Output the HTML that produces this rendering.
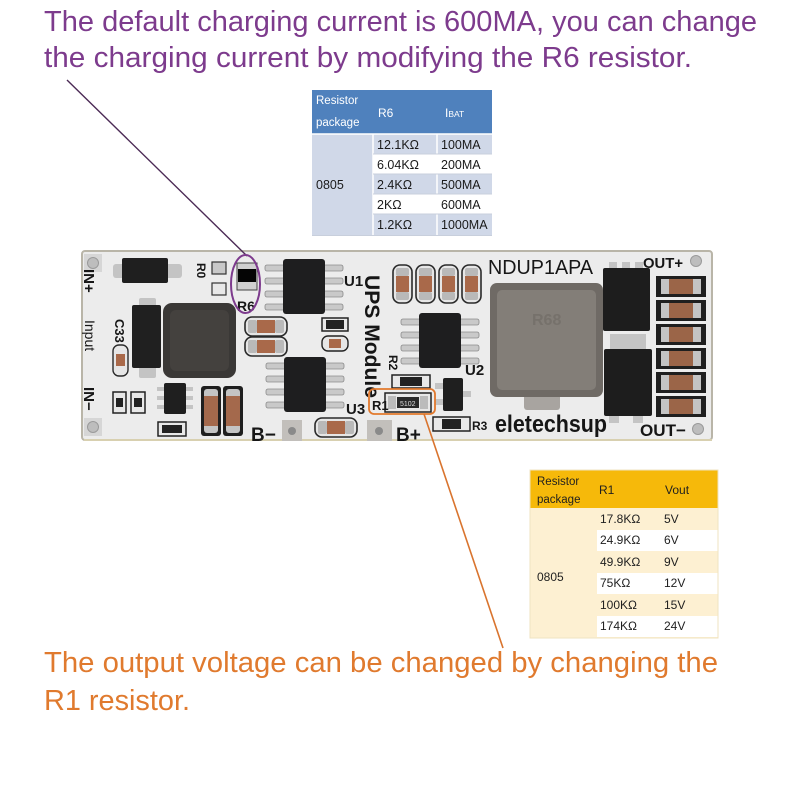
<!DOCTYPE html>
<html><head><meta charset="utf-8"><style>
html,body{margin:0;padding:0;background:#fff;}
svg{display:block;}
text{font-family:"Liberation Sans",sans-serif;}
</style></head><body>
<svg width="800" height="800" viewBox="0 0 800 800" xmlns="http://www.w3.org/2000/svg">
<defs>
  <g id="soic">
    <rect x="-18" y="6" width="20" height="6" rx="2" fill="#c9c9c9" stroke="#8a8a8a" stroke-width="0.8"/>
    <rect x="-18" y="19" width="20" height="6" rx="2" fill="#c9c9c9" stroke="#8a8a8a" stroke-width="0.8"/>
    <rect x="-18" y="32" width="20" height="6" rx="2" fill="#c9c9c9" stroke="#8a8a8a" stroke-width="0.8"/>
    <rect x="-18" y="45" width="20" height="6" rx="2" fill="#c9c9c9" stroke="#8a8a8a" stroke-width="0.8"/>
    <rect x="40" y="6" width="20" height="6" rx="2" fill="#c9c9c9" stroke="#8a8a8a" stroke-width="0.8"/>
    <rect x="40" y="19" width="20" height="6" rx="2" fill="#c9c9c9" stroke="#8a8a8a" stroke-width="0.8"/>
    <rect x="40" y="32" width="20" height="6" rx="2" fill="#c9c9c9" stroke="#8a8a8a" stroke-width="0.8"/>
    <rect x="40" y="45" width="20" height="6" rx="2" fill="#c9c9c9" stroke="#8a8a8a" stroke-width="0.8"/>
    <rect x="0" y="0" width="42" height="55" rx="3" fill="#1e1e1f"/>
  </g>
  <g id="capv">
    <rect x="0" y="0" width="19" height="38" rx="7" fill="#e6e6e6" stroke="#2a2a2a" stroke-width="1.6"/>
    <rect x="3" y="3" width="13" height="8" rx="2" fill="#b9b9b9"/>
    <rect x="3" y="11" width="13" height="16" fill="#a9694a"/>
    <rect x="3" y="27" width="13" height="8" rx="2" fill="#b9b9b9"/>
  </g>
  <g id="caph">
    <rect x="0" y="0" width="42" height="19" rx="7" fill="#e6e6e6" stroke="#2a2a2a" stroke-width="1.6"/>
    <rect x="3" y="3" width="9" height="13" rx="2" fill="#b9b9b9"/>
    <rect x="12" y="3" width="18" height="13" fill="#a9694a"/>
    <rect x="30" y="3" width="9" height="13" rx="2" fill="#b9b9b9"/>
  </g>
  <g id="capr">
    <rect x="0" y="0" width="50" height="21" fill="#1f1f1f"/>
    <rect x="5" y="3" width="8" height="15" fill="#c4c4c4"/>
    <rect x="13" y="3" width="24" height="15" fill="#9b6548"/>
    <rect x="37" y="3" width="8" height="15" fill="#c4c4c4"/>
  </g>
</defs>

<!-- top purple text -->
<text x="44" y="31" font-size="29" fill="#7d3b8d" textLength="713" lengthAdjust="spacingAndGlyphs">The default charging current is 600MA, you can change</text>
<text x="44" y="67" font-size="29" fill="#7d3b8d" textLength="648" lengthAdjust="spacingAndGlyphs">the charging current by modifying the R6 resistor.</text>

<!-- Table 1 -->
<rect x="312" y="90" width="180" height="44" fill="#4f81bd"/>
<text x="316" y="104" font-size="11.5" fill="#fff">Resistor</text>
<text x="316" y="126" font-size="11.5" fill="#fff">package</text>
<text x="378" y="117" font-size="12" fill="#fff">R6</text>
<text x="445" y="117" font-size="12" fill="#fff">I<tspan font-size="8.5">BAT</tspan></text>
<rect x="312" y="134" width="61" height="101" fill="#d0d8e8"/>
<rect x="373" y="134" width="119" height="20" fill="#d0d8e8"/>
<rect x="373" y="154" width="119" height="20" fill="#ffffff"/>
<rect x="373" y="174" width="119" height="20" fill="#d0d8e8"/>
<rect x="373" y="194" width="119" height="20" fill="#ffffff"/>
<rect x="373" y="214" width="119" height="21" fill="#d0d8e8"/>
<g stroke="#ffffff" stroke-width="1.5">
  <line x1="312" y1="134" x2="492" y2="134"/>
  <line x1="373" y1="134" x2="373" y2="235"/>
  <line x1="437" y1="134" x2="437" y2="235"/>
</g>
<g stroke="#c8cfdc" stroke-width="1">
  <line x1="373" y1="154" x2="492" y2="154"/>
  <line x1="373" y1="174" x2="492" y2="174"/>
  <line x1="373" y1="194" x2="492" y2="194"/>
  <line x1="373" y1="214" x2="492" y2="214"/>
  <line x1="312" y1="235.5" x2="492" y2="235.5"/>
</g>
<g font-size="12.5" fill="#1a1a1a">
  <text x="316" y="189">0805</text>
  <text x="377" y="149">12.1KΩ</text><text x="441" y="149">100MA</text>
  <text x="377" y="169">6.04KΩ</text><text x="441" y="169">200MA</text>
  <text x="377" y="189">2.4KΩ</text><text x="441" y="189">500MA</text>
  <text x="377" y="209">2KΩ</text><text x="441" y="209">600MA</text>
  <text x="377" y="229">1.2KΩ</text><text x="441" y="229">1000MA</text>
</g>

<!-- PCB board -->
<rect x="82" y="251" width="630" height="189" rx="3" fill="#ececec" stroke="#b9b5a8" stroke-width="2"/>
<line x1="84" y1="440" x2="712" y2="440" stroke="#d8d0b0" stroke-width="2"/>

<!-- mounting holes -->
<g fill="#bdbdbd" stroke="#9a9a9a" stroke-width="1">
  <rect x="84" y="254" width="18" height="18" fill="#d6d6d6" stroke="none"/>
  <circle cx="93" cy="263" r="5.5"/>
  <rect x="84" y="418" width="18" height="18" fill="#d6d6d6" stroke="none"/>
  <circle cx="93" cy="427" r="5.5"/>
  <circle cx="696" cy="261" r="5.5"/>
  <circle cx="698" cy="429" r="5.5"/>
</g>

<!-- top-left diode -->
<rect x="113" y="264" width="13" height="14" rx="3" fill="#c4c4c4"/>
<rect x="165" y="264" width="17" height="14" rx="3" fill="#c4c4c4"/>
<rect x="122" y="258" width="46" height="25" rx="2" fill="#1f1f1f"/>

<!-- R0 pads -->
<rect x="212" y="262" width="14" height="12" fill="#c8c8c8" stroke="#333" stroke-width="1.2"/>
<rect x="212" y="283" width="14" height="12" fill="#e8e8e8" stroke="#333" stroke-width="1.2"/>
<!-- R6 -->
<rect x="237" y="263" width="20" height="27" fill="#d0d0d0" stroke="#444" stroke-width="1"/>
<rect x="238" y="269" width="18" height="13" fill="#050505"/>

<!-- left inductor -->
<rect x="163" y="303" width="73" height="75" rx="9" fill="#3a3836"/>
<rect x="170" y="310" width="59" height="61" rx="6" fill="#44413e"/>

<!-- C33 -->
<rect x="139" y="298" width="17" height="10" rx="2" fill="#c4c4c4"/>
<rect x="139" y="366" width="17" height="12" rx="2" fill="#c4c4c4"/>
<rect x="132" y="305" width="29" height="63" rx="2" fill="#202020"/>
<!-- small cap below C33 -->
<rect x="113" y="345" width="15" height="31" rx="6" fill="#e6e6e6" stroke="#2a2a2a" stroke-width="1.4"/>
<rect x="116" y="354" width="9" height="12" fill="#a9694a"/>

<!-- U1, U3, U2 -->
<use href="#soic" x="283" y="259"/>
<use href="#soic" x="284" y="357"/>
<use href="#soic" x="419" y="313"/>

<!-- caps near U1 -->
<use href="#caph" x="245" y="317"/>
<use href="#caph" x="245" y="337"/>

<!-- small 102 resistor & cap -->
<rect x="322" y="318" width="26" height="13" fill="#e8e8e8" stroke="#222" stroke-width="1.5"/>
<rect x="326" y="320" width="18" height="9" fill="#222"/>
<rect x="322" y="336" width="26" height="15" rx="6" fill="#e6e6e6" stroke="#222" stroke-width="1.4"/>
<rect x="329" y="339" width="12" height="9" fill="#a9694a"/>

<!-- bottom-left small parts -->
<rect x="113" y="392" width="13" height="21" fill="#e8e8e8" stroke="#222" stroke-width="1.5"/>
<rect x="116" y="398" width="7" height="9" fill="#222"/>
<rect x="131" y="392" width="14" height="21" fill="#e8e8e8" stroke="#222" stroke-width="1.5"/>
<rect x="134" y="398" width="8" height="9" fill="#222"/>
<g fill="#c4c4c4">
  <rect x="157" y="387" width="9" height="4"/><rect x="157" y="396" width="9" height="4"/><rect x="157" y="405" width="9" height="4"/>
  <rect x="184" y="387" width="9" height="4"/><rect x="184" y="396" width="9" height="4"/><rect x="184" y="405" width="9" height="4"/>
</g>
<rect x="164" y="383" width="22" height="31" rx="2" fill="#1f1f1f"/>
<rect x="158" y="422" width="28" height="14" fill="#e8e8e8" stroke="#222" stroke-width="1.5"/>
<rect x="162" y="425" width="20" height="8" fill="#222"/>

<!-- two big caps -->
<g>
  <rect x="201" y="386" width="20" height="50" rx="3" fill="#1f1f1f"/>
  <rect x="204" y="389" width="14" height="44" rx="3" fill="#c4c4c4"/>
  <rect x="204" y="396" width="14" height="30" fill="#a4694c"/>
  <rect x="223" y="386" width="20" height="50" rx="3" fill="#1f1f1f"/>
  <rect x="226" y="389" width="14" height="44" rx="3" fill="#c4c4c4"/>
  <rect x="226" y="396" width="14" height="30" fill="#a4694c"/>
</g>

<!-- B- pad and cap -->
<rect x="282" y="420" width="20" height="21" fill="#c2bfbb"/>
<circle cx="292" cy="431" r="4" fill="#8a8a8a"/>
<use href="#caph" x="315" y="418"/>
<!-- B+ pad -->
<rect x="367" y="420" width="25" height="21" fill="#c2bfbb"/>
<circle cx="379" cy="431" r="4" fill="#8a8a8a"/>

<!-- four top caps -->
<use href="#capv" x="393" y="265"/>
<use href="#capv" x="416" y="265"/>
<use href="#capv" x="439" y="265"/>
<use href="#capv" x="462" y="265"/>

<!-- R2 1002, R1 5102, R3 002 -->
<rect x="392" y="375" width="38" height="13" fill="#e8e8e8" stroke="#222" stroke-width="1.5"/>
<rect x="400" y="377" width="22" height="9" fill="#222"/>
<rect x="385" y="393" width="46" height="19" fill="#e8e8e8" stroke="#222" stroke-width="1.5"/>
<rect x="388" y="396" width="8" height="13" fill="#bbb"/>
<rect x="420" y="396" width="8" height="13" fill="#bbb"/>
<rect x="397" y="397" width="22" height="11" fill="#2a2a2a"/>
<text x="400" y="406" font-size="7" fill="#ddd">5102</text>
<rect x="433" y="417" width="37" height="14" fill="#e8e8e8" stroke="#222" stroke-width="1.5"/>
<rect x="442" y="419" width="19" height="10" fill="#222"/>

<!-- SOT-23 near U2 -->
<rect x="435" y="383" width="10" height="6" fill="#c4c4c4"/>
<rect x="435" y="399" width="10" height="6" fill="#c4c4c4"/>
<rect x="461" y="391" width="10" height="6" fill="#c4c4c4"/>
<rect x="443" y="378" width="20" height="33" rx="2" fill="#1f1f1f"/>

<!-- big inductor -->
<rect x="524" y="392" width="36" height="18" rx="3" fill="#a8a4a0"/>
<rect x="490" y="283" width="113" height="114" rx="7" fill="#6f6a65"/>
<rect x="497" y="290" width="99" height="100" rx="5" fill="#837e78"/>
<text x="532" y="325" font-size="16" font-weight="bold" fill="#76716b">R68</text>

<!-- MOSFETs -->
<rect x="609" y="262" width="8" height="8" fill="#c4c4c4"/><rect x="622" y="262" width="8" height="8" fill="#c4c4c4"/><rect x="635" y="262" width="8" height="8" fill="#c4c4c4"/>
<rect x="603" y="268" width="47" height="63" rx="2" fill="#1d1d1d"/>
<rect x="610" y="334" width="36" height="16" fill="#c4c4c4"/>
<rect x="604" y="349" width="48" height="67" rx="2" fill="#1d1d1d"/>
<rect x="609" y="416" width="10" height="7" fill="#c4c4c4"/><rect x="633" y="416" width="10" height="7" fill="#c4c4c4"/>

<!-- right caps column -->
<use href="#capr" x="656" y="276"/>
<use href="#capr" x="656" y="300"/>
<use href="#capr" x="656" y="324"/>
<use href="#capr" x="656" y="348"/>
<use href="#capr" x="656" y="372"/>
<use href="#capr" x="656" y="396"/>

<!-- board texts -->
<g fill="#161616" font-weight="bold">
  <text transform="translate(84,269) rotate(90)" font-size="15">IN+</text>
  <text transform="translate(85,320) rotate(90)" font-size="14" font-weight="normal">Input</text>
  <text transform="translate(84,387) rotate(90)" font-size="15">IN−</text>
  <text transform="translate(115,319) rotate(90)" font-size="13">C33</text>
  <text transform="translate(197,263) rotate(90)" font-size="12">R0</text>
  <text x="237" y="311" font-size="14">R6</text>
  <text x="344" y="286" font-size="15">U1</text>
  <text transform="translate(365,275) rotate(90)" font-size="21" textLength="123" lengthAdjust="spacingAndGlyphs">UPS Module</text>
  <text transform="translate(389,355) rotate(90)" font-size="12">R2</text>
  <text x="465" y="375" font-size="15">U2</text>
  <text x="346" y="414" font-size="15">U3</text>
  <text x="372" y="410" font-size="13">R1</text>
  <text x="251" y="441" font-size="19">B−</text>
  <text x="396" y="441" font-size="19">B+</text>
  <text x="472" y="430" font-size="12">R3</text>
  <text x="495" y="432" font-size="24" textLength="112" lengthAdjust="spacingAndGlyphs">eletechsup</text>
  <text x="488" y="274" font-size="20" font-weight="normal" textLength="105" lengthAdjust="spacingAndGlyphs">NDUP1APA</text>
  <text x="643" y="268" font-size="15" textLength="40" lengthAdjust="spacingAndGlyphs">OUT+</text>
  <text x="640" y="436" font-size="17" textLength="46" lengthAdjust="spacingAndGlyphs">OUT−</text>
</g>

<!-- purple callout -->
<line x1="67" y1="80" x2="247" y2="256" stroke="#4b2a55" stroke-width="1.4"/>
<ellipse cx="245.5" cy="284" rx="14.5" ry="29" fill="none" stroke="#7d3b8d" stroke-width="2"/>

<!-- orange callout -->
<rect x="369" y="389" width="66" height="25" rx="5" fill="none" stroke="#e2792d" stroke-width="1.8"/>
<line x1="424" y1="414" x2="503" y2="648" stroke="#d9742e" stroke-width="1.6"/>

<!-- Table 2 -->
<rect x="530" y="470" width="188" height="38" fill="#f6b90a"/>
<rect x="530" y="508" width="188" height="130" fill="#fdf0d2"/>
<rect x="597" y="530" width="121" height="21" fill="#ffffff"/>
<rect x="597" y="573" width="121" height="21" fill="#ffffff"/>
<rect x="597" y="616" width="121" height="21" fill="#ffffff"/>
<rect x="530" y="470" width="188" height="168" fill="none" stroke="#efe3c2" stroke-width="1"/>
<g font-size="12" fill="#1f1f1f">
  <text x="537" y="485" font-size="11.5">Resistor</text>
  <text x="537" y="503" font-size="11.5">package</text>
  <text x="599" y="494">R1</text>
  <text x="665" y="494">Vout</text>
  <text x="537" y="581">0805</text>
  <text x="600" y="523">17.8KΩ</text><text x="664" y="523">5V</text>
  <text x="600" y="544">24.9KΩ</text><text x="664" y="544">6V</text>
  <text x="600" y="566">49.9KΩ</text><text x="664" y="566">9V</text>
  <text x="600" y="587">75KΩ</text><text x="664" y="587">12V</text>
  <text x="600" y="609">100KΩ</text><text x="664" y="609">15V</text>
  <text x="600" y="630">174KΩ</text><text x="664" y="630">24V</text>
</g>

<!-- bottom orange text -->
<text x="44" y="672" font-size="29" fill="#e07a2e" textLength="674" lengthAdjust="spacingAndGlyphs">The output voltage can be changed by changing the</text>
<text x="44" y="710" font-size="29" fill="#e07a2e" textLength="146" lengthAdjust="spacingAndGlyphs">R1 resistor.</text>
</svg>
</body></html>
